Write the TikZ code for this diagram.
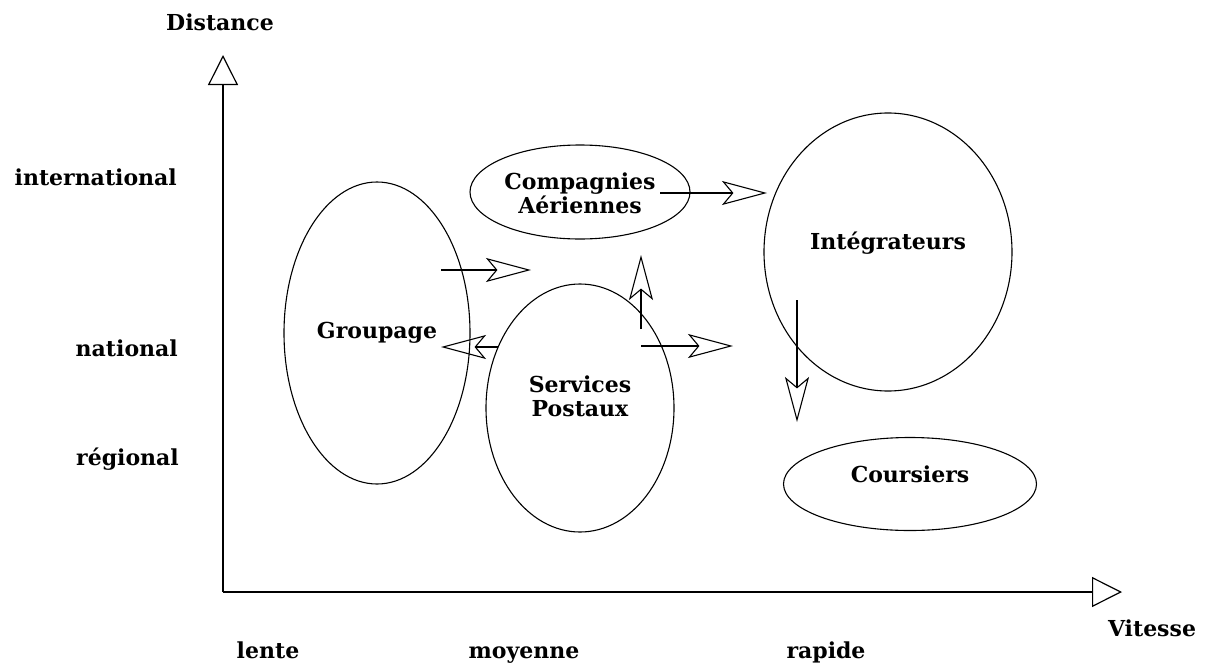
\documentclass[tikz,border=0pt]{standalone}
\usepackage{fontspec}
\setmainfont{DejaVu Serif}
\usetikzlibrary{arrows.meta,shapes.geometric}
\begin{document}
\begin{tikzpicture}[x=1pt,y=-1pt,
  lbl/.style={font=\fontsize{22}{24}\selectfont\bfseries, inner sep=0pt, align=center},
  oval/.style={draw, ellipse, line width=1.1pt, inner sep=0pt},
  axis/.style={line width=1.3pt, -{Triangle[open, length=30pt, width=30pt, line width=1.2pt]}},
  flow/.style={line width=1.1pt, -{Stealth[open, length=45pt, width=24pt, inset=10pt, line width=1.1pt]}}]
\useasboundingbox (0,0) rectangle (1213,664);
% ellipses
\node[oval, minimum width=186pt, minimum height=302pt] (grp) at (377,333) {};
\node[oval, minimum width=220pt, minimum height=94pt] (cie) at (580,192) {};
\node[oval, minimum width=188pt, minimum height=248pt] (pos) at (580,408) {};
\node[oval, minimum width=248pt, minimum height=278pt] (int) at (888,252) {};
\node[oval, minimum width=253pt, minimum height=93pt] (cou) at (910,484) {};
% texts in ellipses
\node[lbl] (grpT) at (377,333) {Groupage};
\node[lbl] (cieT) at (580,193) {Compagnies\\Aériennes};
\node[lbl] (posT) at (580,396) {Services\\Postaux};
\node[lbl] (intT) at (888,243) {Intégrateurs};
\node[lbl] (couT) at (910,474) {Coursiers};
% axis labels
\node[lbl] (dist) at (220,22) {Distance};
\node[lbl] (vit) at (1152,628) {Vitesse};
\node[lbl, anchor=east] (intl) at (177,177) {international};
\node[lbl, anchor=east] (natl) at (178,348) {national};
\node[lbl, anchor=east] (reg) at (179,459) {régional};
\node[lbl, anchor=base] (lente) at (268,658) {lente};
\node[lbl, anchor=base] (moy) at (524,658) {moyenne};
\node[lbl, anchor=base] (rap) at (826,658) {rapide};
% axes
\coordinate (O) at (223,592);
\coordinate (ytip) at (223,55);
\coordinate (xtip) at (1122,592);
\draw[axis] (O) -- (ytip);
\draw[axis] (O) -- (xtip);
% flows
\coordinate (f1s) at (441,270); \coordinate (f1e) at (531,270);
\coordinate (f2s) at (498,347); \coordinate (f2e) at (441,347);
\coordinate (f3s) at (641,329); \coordinate (f3e) at (641,255);
\coordinate (f4s) at (641,346); \coordinate (f4e) at (733,346);
\coordinate (f5s) at (660,193); \coordinate (f5e) at (767,193);
\coordinate (f6s) at (797,300); \coordinate (f6e) at (797,422);
\draw[flow] (f1s) -- (f1e);
\draw[flow] (f2s) -- (f2e);
\draw[flow] (f3s) -- (f3e);
\draw[flow] (f4s) -- (f4e);
\draw[flow] (f5s) -- (f5e);
\draw[flow] (f6s) -- (f6e);
\end{tikzpicture}
\end{document}
